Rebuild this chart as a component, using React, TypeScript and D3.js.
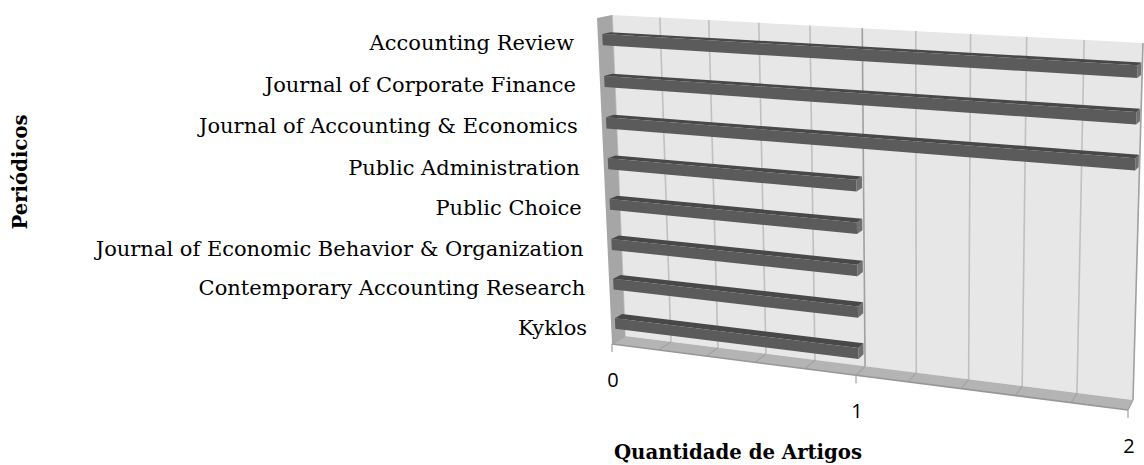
import React from "react";
import * as d3 from "d3";

const categories = [
  "Accounting Review",
  "Journal of Corporate Finance",
  "Journal of Accounting & Economics",
  "Public Administration",
  "Public Choice",
  "Journal of Economic Behavior & Organization",
  "Contemporary Accounting Research",
  "Kyklos",
];
const values = [2, 2, 2, 1, 1, 1, 1, 1];
const xTickValues = [0, 1, 2];
const xDomain = [0, 2];
const xTitle = "Quantidade de Artigos";
const yTitle = "Periódicos";

const W = 1144;
const H = 465;

type P = [number, number];
const backQuad: P[] = [[612, 15], [1143, 43], [1133, 400], [625, 336]];
const frontQuad: P[] = [[597, 18], [1136, 48], [1128, 410], [612, 344]];

function quadMap(q: P[]) {
  const [p0, p1, p2, p3] = q;
  const dx1 = p1[0] - p2[0], dx2 = p3[0] - p2[0], dx3 = p0[0] - p1[0] + p2[0] - p3[0];
  const dy1 = p1[1] - p2[1], dy2 = p3[1] - p2[1], dy3 = p0[1] - p1[1] + p2[1] - p3[1];
  const den = dx1 * dy2 - dx2 * dy1;
  const g = (dx3 * dy2 - dx2 * dy3) / den;
  const h = (dx1 * dy3 - dx3 * dy1) / den;
  const a = p1[0] - p0[0] + g * p1[0], b = p3[0] - p0[0] + h * p3[0], c = p0[0];
  const d = p1[1] - p0[1] + g * p1[1], e = p3[1] - p0[1] + h * p3[1], f = p0[1];
  return (u: number, v: number): P => {
    const w = g * u + h * v + 1;
    return [(a * u + b * v + c) / w, (d * u + e * v + f) / w];
  };
}
const back = quadMap(backQuad);
const front = quadMap(frontQuad);
const proj = (u: number, v: number, z: number): P => {
  const f = front(u, v);
  const b = back(u, v);
  return [f[0] + (b[0] - f[0]) * z, f[1] + (b[1] - f[1]) * z];
};

const x = d3.scaleLinear().domain(xDomain).range([0, 1]);
const y = d3.scaleBand<string>().domain(categories).range([0, 1]);
const gridValues = x.ticks(10);

const line = d3.line<P>();
const poly = (pts: P[]) => line(pts) + "Z";

const ZF = 0.3;
const ZB = 0.85;

export default function App() {
  const bw = y.bandwidth();
  return (
    <svg
      width={W}
      height={H}
      style={{ position: "absolute", left: 0, top: 0, background: "#fff" }}
    >
      {/* back wall */}
      <path
        d={poly([proj(0, 0, 1), proj(1, 0, 1), proj(1, 1, 1), proj(0, 1, 1)])}
        fill="#e7e7e7"
      />
      {gridValues.map((g) => {
        const u = x(g);
        const major = Number.isInteger(g) && g > 0;
        return (
          <path
            key={"g" + g}
            d={line([proj(u, 0, 1), proj(u, 1, 1)]) as string}
            stroke={major ? "#a0a0a0" : "#c0c0c0"}
            strokeWidth={1.6}
            fill="none"
          />
        );
      })}
      {/* side wall */}
      <path
        d={poly([proj(0, 0, 0), proj(0, 0, 1), proj(0, 1, 1), proj(0, 1, 0)])}
        fill="#a6a6a6"
      />
      {/* floor */}
      <path
        d={poly([proj(0, 1, 0), proj(0, 1, 1), proj(1, 1, 1), proj(1, 1, 0)])}
        fill="#b4b4b4"
      />
      {gridValues.map((g) => {
        const u = x(g);
        return (
          <path
            key={"f" + g}
            d={line([proj(u, 1, 1), proj(u, 1, 0)]) as string}
            stroke="#a2a2a2"
            strokeWidth={1.2}
            fill="none"
          />
        );
      })}
      <path
        d={line([proj(0, 1, 0), proj(1, 1, 0)]) as string}
        stroke="#979797"
        strokeWidth={1.6}
        fill="none"
      />
      {/* ticks */}
      {xTickValues.map((t) => {
        const p = proj(x(t), 1, 0);
        return (
          <g key={"t" + t}>
            <line x1={p[0]} y1={p[1]} x2={p[0]} y2={p[1] + 8} stroke="#a0a0a0" strokeWidth={1.2} />
            <text
              x={p[0] + 1}
              y={p[1] + 35}
              textAnchor="middle"
              dominantBaseline="central"
              fontFamily="'Open Sans', 'Liberation Sans', sans-serif"
              fontSize={20}
              fill="#000"
            >
              {t}
            </text>
          </g>
        );
      })}
      {/* bars */}
      {categories.map((c, i) => {
        const u1 = x(values[i]);
        const v0 = (y(c) as number) + bw * 0.4;
        const v1 = v0 + bw * 0.27;
        const top = [proj(0, v0, ZF), proj(u1, v0, ZF), proj(u1, v0, ZB), proj(0, v0, ZB)] as P[];
        const fr = [proj(0, v0, ZF), proj(u1, v0, ZF), proj(u1, v1, ZF), proj(0, v1, ZF)] as P[];
        const end = [proj(u1, v0, ZF), proj(u1, v0, ZB), proj(u1, v1, ZB), proj(u1, v1, ZF)] as P[];
        return (
          <g key={"b" + c}>
            <path d={poly(end)} fill="#707070" />
            <path d={poly(top)} fill="#484848" />
            <path d={poly(fr)} fill="#5b5b5b" />
          </g>
        );
      })}
      {/* category labels */}
      {categories.map((c) => {
        const v = (y(c) as number) + bw / 2;
        const p = proj(0, v, 0);
        return (
          <text
            key={"l" + c}
            x={p[0] - 24}
            y={p[1] + 3.5}
            textAnchor="end"
            dominantBaseline="central"
            fontFamily="'DejaVu Serif', serif"
            fontSize={21}
            fill="#000"
          >
            {c}
          </text>
        );
      })}
      <text
        x={738}
        y={452}
        textAnchor="middle"
        dominantBaseline="central"
        fontFamily="'DejaVu Serif', serif"
        fontWeight="bold"
        fontSize={19.7}
      >
        {xTitle}
      </text>
      <text
        transform="translate(20,172) rotate(-90)"
        textAnchor="middle"
        dominantBaseline="central"
        fontFamily="'DejaVu Serif', serif"
        fontWeight="bold"
        fontSize={19.7}
      >
        {yTitle}
      </text>
    </svg>
  );
}
